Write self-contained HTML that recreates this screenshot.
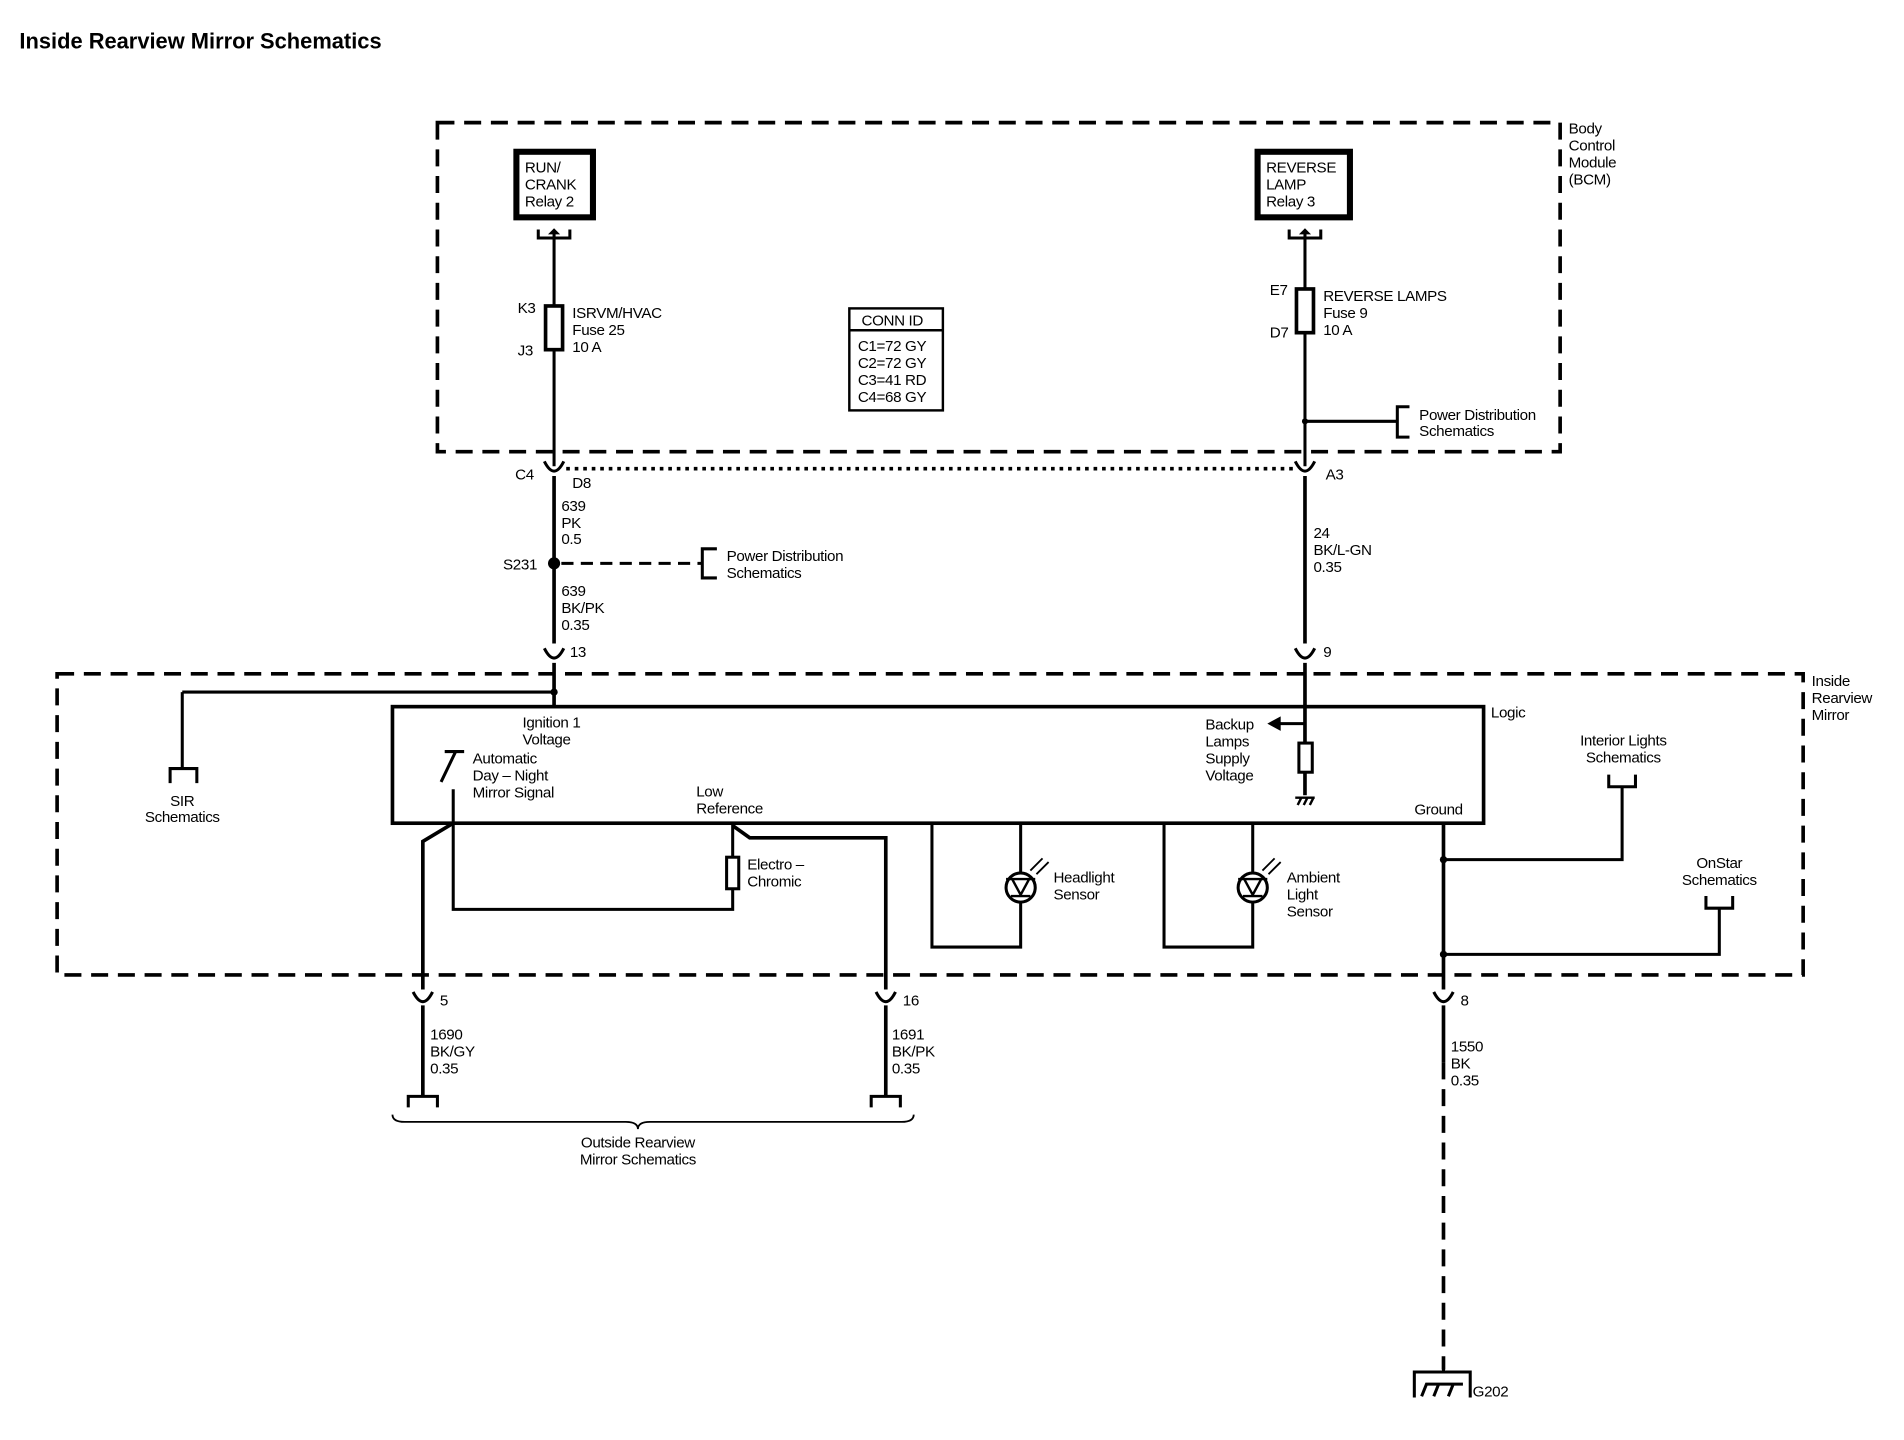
<!DOCTYPE html>
<html><head><meta charset="utf-8"><style>
html,body{margin:0;padding:0;background:#fff;}
svg{display:block;}
text{font-family:"Liberation Sans",sans-serif;font-size:12.5px;fill:#000;letter-spacing:-0.3px;}
.b{font-weight:bold;}
</style></head><body>
<svg width="1904" height="1440" viewBox="0 0 1567 1186" preserveAspectRatio="none" xmlns="http://www.w3.org/2000/svg">
<g fill="none" stroke="#000" stroke-width="3">
<rect x="360" y="101" width="924" height="271" stroke-dasharray="14 8"/>
<rect x="47" y="555" width="1437" height="248" stroke-dasharray="14 8"/>
<rect x="425" y="125" width="63" height="54" stroke-width="5"/>
<rect x="1035" y="125" width="76" height="54" stroke-width="5"/>
<path d="M443 189V196H469V189M456 191V384" stroke-width="2.5"/>
<path d="M1061 189V196H1087V189M1074 191V384" stroke-width="2.5"/>
<rect x="449" y="252" width="14" height="36" fill="#fff"/>
<rect x="1067" y="238" width="14" height="36" fill="#fff"/>
<rect x="699" y="254" width="77" height="84" stroke-width="2"/>
<path d="M699 272H776" stroke-width="2"/>
<path d="M1074 347H1150M1160 335H1150V360H1160" stroke-width="2.5"/>
<path d="M448 380Q456 396 464 380M1066 380Q1074 396 1082 380" stroke-width="2.5"/>
<path d="M466 386H1066" stroke-dasharray="3 4" stroke-width="3"/>
<path d="M456 392V530M1074 392V530"/>
<path d="M462 464H578" stroke-dasharray="10 6" stroke-width="2.5"/>
<path d="M590 452H578V476H590" stroke-width="2.5"/>
<path d="M448 534Q456 550 464 534M1066 534Q1074 550 1082 534" stroke-width="2.5"/>
<path d="M456 546V582M1074 546V612M1074 636V655"/>
<path d="M150 570H456M150 570V633" stroke-width="2.5"/>
<path d="M140 645V633H162V645" stroke-width="2.5"/>
<rect x="323" y="582" width="898" height="96"/>
<path d="M366 619H382M375 619L363 644M373 650V749H603V678" stroke-width="2.5"/>
<path d="M373 678L348 693V815"/>
<rect x="598" y="706" width="10" height="26" fill="#fff" stroke-width="2.5"/>
<path d="M603 680L617 690H729V815"/>
<path d="M1074 596H1052" stroke-width="2.5"/>
<rect x="1069" y="612" width="11" height="24" fill="#fff" stroke-width="2.5"/>
<path d="M1066 657H1082M1068 663L1071 657M1073 663L1076 657M1078 663L1081 657" stroke-width="2"/>
<path d="M767 678V780H840V678M958 678V780H1031V678" stroke-width="2.5"/>
<circle cx="840" cy="731" r="12" fill="#fff" stroke-width="2.5"/>
<circle cx="1031" cy="731" r="12" fill="#fff" stroke-width="2.5"/>
<path d="M828 724H852M833 724L840 737L847 724M832 738H848M1019 724H1043M1024 724L1031 737L1038 724M1023 738H1039" stroke-width="2"/>
<path d="M848 717L858 707M853 720L863 710M1039 717L1049 707M1044 720L1054 710" stroke-width="1.5"/>
<path d="M1188 678V815"/>
<path d="M1188 708H1335V648M1188 786H1415V748" stroke-width="2.5"/>
<path d="M1324 638V648H1346V638M1404 738V748H1426V738" stroke-width="2.5"/>
<path d="M340 817Q348 833 356 817M721 817Q729 833 737 817M1180 817Q1188 833 1196 817" stroke-width="2.5"/>
<path d="M348 828V903M729 828V903M1188 828V875"/>
<path d="M1188 875V1128" stroke-dasharray="14 8"/>
<path d="M336 912V903H360V912M717 912V903H741V912" stroke-width="2.5"/>
<path d="M323 918Q323 924 333 924H515Q525 924 525 930Q525 924 535 924H742Q752 924 752 918" stroke-width="1.5"/>
<path d="M1164 1151V1130H1210V1151M1188 1120V1130M1170 1150L1174 1140H1204M1180 1150L1184 1140M1192 1150L1196 1140" stroke-width="2.5"/>
</g>
<circle cx="456" cy="464" r="5" fill="#000"/>
<circle cx="456" cy="570" r="3" fill="#000"/>
<circle cx="1074" cy="347" r="2.5" fill="#000"/>
<circle cx="1188" cy="708" r="3" fill="#000"/>
<circle cx="1188" cy="786" r="3" fill="#000"/>
<path d="M1043 596L1054 590V602Z" fill="#000"/>
<path d="M456 188L451 193H461Z" fill="#000"/>
<path d="M1074 188L1069 193H1079Z" fill="#000"/>

<text x="16" y="40" class="b" style="font-size:18px;letter-spacing:0">Inside Rearview Mirror Schematics</text>
<text x="1291" y="110">Body</text><text x="1291" y="124">Control</text><text x="1291" y="138">Module</text><text x="1291" y="152">(BCM)</text>
<text x="432" y="142">RUN/</text><text x="432" y="156">CRANK</text><text x="432" y="170">Relay 2</text>
<text x="1042" y="142">REVERSE</text><text x="1042" y="156">LAMP</text><text x="1042" y="170">Relay 3</text>
<text x="426" y="258">K3</text><text x="426" y="293">J3</text>
<text x="471" y="262">ISRVM/HVAC</text><text x="471" y="276">Fuse 25</text><text x="471" y="290">10 A</text>
<text x="709" y="268">CONN ID</text>
<text x="706" y="289">C1=72 GY</text><text x="706" y="303">C2=72 GY</text><text x="706" y="317">C3=41 RD</text><text x="706" y="331">C4=68 GY</text>
<text x="1045" y="243">E7</text><text x="1045" y="278">D7</text>
<text x="1089" y="248">REVERSE LAMPS</text><text x="1089" y="262">Fuse 9</text><text x="1089" y="276">10 A</text>
<text x="1168" y="346">Power Distribution</text><text x="1168" y="359">Schematics</text>
<text x="424" y="395">C4</text><text x="471" y="402">D8</text><text x="1091" y="395">A3</text>
<text x="462" y="421">639</text><text x="462" y="435">PK</text><text x="462" y="448">0.5</text>
<text x="414" y="469">S231</text>
<text x="598" y="462">Power Distribution</text><text x="598" y="476">Schematics</text>
<text x="462" y="491">639</text><text x="462" y="505">BK/PK</text><text x="462" y="519">0.35</text>
<text x="469" y="541">13</text><text x="1089" y="541">9</text>
<text x="1081" y="443">24</text><text x="1081" y="457">BK/L-GN</text><text x="1081" y="471">0.35</text>
<text x="1491" y="565">Inside</text><text x="1491" y="579">Rearview</text><text x="1491" y="593">Mirror</text>
<text x="1227" y="591">Logic</text>
<text x="430" y="599">Ignition 1</text><text x="430" y="613">Voltage</text>
<text x="389" y="629">Automatic</text><text x="389" y="643">Day – Night</text><text x="389" y="657">Mirror Signal</text>
<text x="573" y="656">Low</text><text x="573" y="670">Reference</text>
<text x="992" y="601">Backup</text><text x="992" y="615">Lamps</text><text x="992" y="629">Supply</text><text x="992" y="643">Voltage</text>
<text x="1164" y="671">Ground</text>
<text x="150" y="664" text-anchor="middle">SIR</text><text x="150" y="677" text-anchor="middle">Schematics</text>
<text x="615" y="716">Electro –</text><text x="615" y="730">Chromic</text>
<text x="867" y="727">Headlight</text><text x="867" y="741">Sensor</text>
<text x="1059" y="727">Ambient</text><text x="1059" y="741">Light</text><text x="1059" y="755">Sensor</text>
<text x="1336" y="614" text-anchor="middle">Interior Lights</text><text x="1336" y="628" text-anchor="middle">Schematics</text>
<text x="1415" y="715" text-anchor="middle">OnStar</text><text x="1415" y="729" text-anchor="middle">Schematics</text>
<text x="362" y="828">5</text><text x="743" y="828">16</text><text x="1202" y="828">8</text>
<text x="354" y="856">1690</text><text x="354" y="870">BK/GY</text><text x="354" y="884">0.35</text>
<text x="734" y="856">1691</text><text x="734" y="870">BK/PK</text><text x="734" y="884">0.35</text>
<text x="1194" y="866">1550</text><text x="1194" y="880">BK</text><text x="1194" y="894">0.35</text>
<text x="525" y="945" text-anchor="middle">Outside Rearview</text><text x="525" y="959" text-anchor="middle">Mirror Schematics</text>
<text x="1212" y="1150">G202</text>
</svg>
</body></html>
